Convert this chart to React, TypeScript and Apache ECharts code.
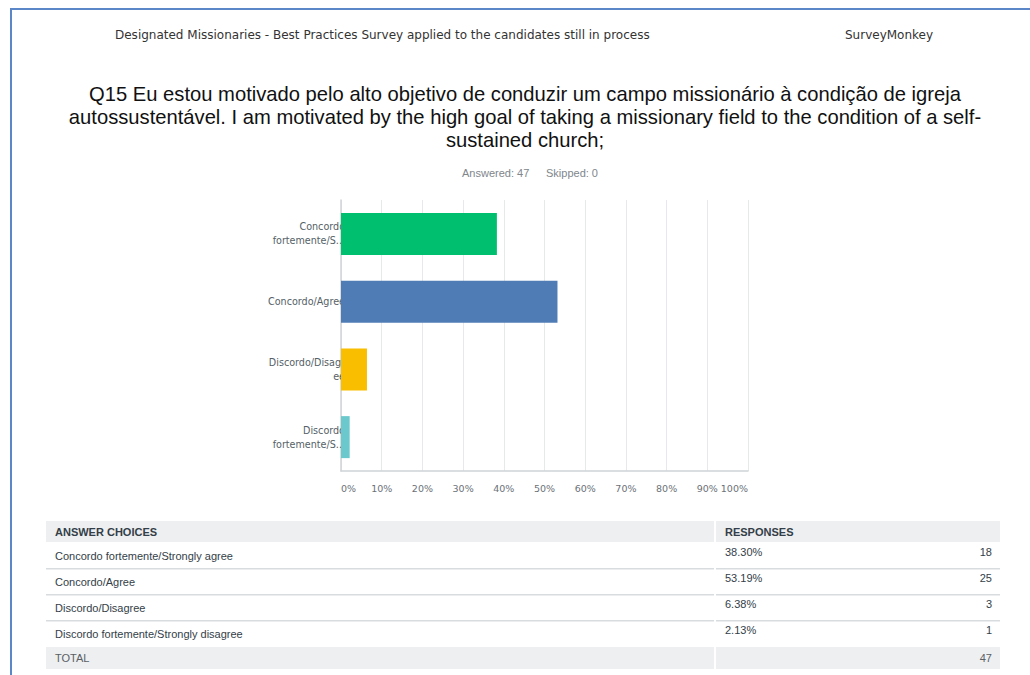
import React, { useEffect, useRef } from "react";
import * as echarts from "echarts";

// Survey answers for Q15
const categories = [
  "Concordo fortemente/Strongly agree",
  "Concordo/Agree",
  "Discordo/Disagree",
  "Discordo fortemente/Strongly disagree",
];
// Short axis labels as shown next to the bars
const axisLabels = [
  "Concordo\nfortemente/S...",
  "Concordo/Agree",
  "Discordo/Disagr\nee",
  "Discordo\nfortemente/S...",
];
const percents = [38.3, 53.19, 6.38, 2.13];
const counts = [18, 25, 3, 1];
const barColors = ["#00bf6f", "#507cb6", "#f9be00", "#6bc8cd"];
const xTicks = [0, 10, 20, 30, 40, 50, 60, 70, 80, 90, 100];
const answered = 47;
const skipped = 0;

const TITLE_LINES = [
  "Q15 Eu estou motivado pelo alto objetivo de conduzir um campo missionário à condição de igreja",
  "autossustentável. I am motivated by the high goal of taking a missionary field to the condition of a self-",
  "sustained church;",
];

export default function App() {
  const ref = useRef<HTMLDivElement>(null);

  useEffect(() => {
    document.body.style.margin = "0";
    const chart = echarts.init(ref.current!, undefined, { renderer: "svg" });

    const sans = "Liberation Sans, Arial, sans-serif";
    const ui = "DejaVu Sans, sans-serif";

    // Table layout
    const tLeft = 46;
    const tSplit = 715;
    const tRight = 1000;
    const headerTop = 521;
    const headerH = 21;
    const rowH = 26;
    const firstRowTop = 543;

    const graphics: any[] = [];

    // page frame
    graphics.push({
      type: "rect",
      shape: { x: 10, y: 8, width: 1030, height: 2 },
      style: { fill: "#5b86c8" },
      silent: true,
    });
    graphics.push({
      type: "rect",
      shape: { x: 10, y: 8, width: 2, height: 670 },
      style: { fill: "#5b86c8" },
      silent: true,
    });

    // page header
    graphics.push({
      type: "text",
      x: 115,
      y: 35,
      style: {
        text: "Designated Missionaries - Best Practices Survey applied to the candidates still in process",
        font: `12px ${ui}`,
        fill: "#333",
        verticalAlign: "middle",
      },
    });
    graphics.push({
      type: "text",
      x: 845,
      y: 35,
      style: { text: "SurveyMonkey", font: `12px ${ui}`, fill: "#333", verticalAlign: "middle" },
    });

    // question title
    TITLE_LINES.forEach((line, i) => {
      graphics.push({
        type: "text",
        x: 525,
        y: 94 + i * 23,
        style: {
          text: line,
          font: `20.2px ${sans}`,
          fill: "#111",
          align: "center",
          verticalAlign: "middle",
        },
      });
    });

    graphics.push({
      type: "text",
      x: 462,
      y: 173,
      style: { text: `Answered: ${answered}`, font: `11px ${sans}`, fill: "#80868c", verticalAlign: "middle" },
    });
    graphics.push({
      type: "text",
      x: 546,
      y: 173,
      style: { text: `Skipped: ${skipped}`, font: `11px ${sans}`, fill: "#80868c", verticalAlign: "middle" },
    });

    // table header
    graphics.push({
      type: "rect",
      shape: { x: tLeft, y: headerTop, width: tSplit - tLeft - 1, height: headerH },
      style: { fill: "#eeeff0" },
    });
    graphics.push({
      type: "rect",
      shape: { x: tSplit + 1, y: headerTop, width: tRight - tSplit - 1, height: headerH },
      style: { fill: "#eeeff0" },
    });
    graphics.push({
      type: "text",
      x: 55,
      y: headerTop + headerH / 2,
      style: { text: "ANSWER CHOICES", font: `bold 11px ${sans}`, fill: "#333e48", verticalAlign: "middle" },
    });
    graphics.push({
      type: "text",
      x: 725,
      y: headerTop + headerH / 2,
      style: { text: "RESPONSES", font: `bold 11px ${sans}`, fill: "#333e48", verticalAlign: "middle" },
    });

    // table rows
    categories.forEach((cat, i) => {
      const top = firstRowTop + i * rowH;
      graphics.push({
        type: "text",
        x: 55,
        y: top + 13,
        style: { text: cat, font: `11px ${sans}`, fill: "#333e48", verticalAlign: "middle" },
      });
      graphics.push({
        type: "text",
        x: 725,
        y: top + 9,
        style: { text: `${percents[i].toFixed(2)}%`, font: `11px ${sans}`, fill: "#333e48", verticalAlign: "middle" },
      });
      graphics.push({
        type: "text",
        x: 992,
        y: top + 9,
        style: { text: String(counts[i]), font: `11px ${sans}`, fill: "#333e48", align: "right", verticalAlign: "middle" },
      });
      if (i < categories.length - 1) {
        graphics.push({
          type: "rect",
          shape: { x: tLeft, y: top + rowH - 1, width: tSplit - tLeft - 1, height: 1.5 },
          style: { fill: "#d9dcde" },
        });
        graphics.push({
          type: "rect",
          shape: { x: tSplit + 1, y: top + rowH - 1, width: tRight - tSplit - 1, height: 1.5 },
          style: { fill: "#d9dcde" },
        });
      }
    });

    // total row
    const totalTop = firstRowTop + categories.length * rowH;
    const total = counts.reduce((a, b) => a + b, 0);
    graphics.push({
      type: "rect",
      shape: { x: tLeft, y: totalTop, width: tSplit - tLeft - 1, height: 22 },
      style: { fill: "#eeeff0" },
    });
    graphics.push({
      type: "rect",
      shape: { x: tSplit + 1, y: totalTop, width: tRight - tSplit - 1, height: 22 },
      style: { fill: "#eeeff0" },
    });
    graphics.push({
      type: "text",
      x: 55,
      y: totalTop + 11,
      style: { text: "TOTAL", font: `11px ${sans}`, fill: "#5a6066", verticalAlign: "middle" },
    });
    graphics.push({
      type: "text",
      x: 992,
      y: totalTop + 11,
      style: { text: String(total), font: `11px ${sans}`, fill: "#5a6066", align: "right", verticalAlign: "middle" },
    });

    chart.setOption({
      animation: false,
      backgroundColor: "#ffffff",
      grid: { left: 341, right: 282, top: 200, bottom: 204 },
      xAxis: {
        type: "value",
        min: 0,
        max: 100,
        interval: 10,
        axisLine: { show: true, lineStyle: { color: "#d0d3d6", width: 1.5 } },
        axisTick: { show: false },
        splitLine: { show: true, lineStyle: { color: "#e6e8ea", width: 1 } },
        axisLabel: {
          formatter: (v: number) => (xTicks.includes(v) ? `${v}%` : ""),
          color: "#6b7178",
          fontSize: 9.5,
          fontFamily: ui,
          margin: 12,
          alignMinLabel: "left",
          alignMaxLabel: "right",
        },
      },
      yAxis: {
        type: "category",
        inverse: true,
        data: axisLabels,
        axisLine: { show: true, lineStyle: { color: "#d0d3d6", width: 1.5 } },
        axisTick: { show: false },
        axisLabel: {
          color: "#555f68",
          fontSize: 9.6,
          fontFamily: ui,
          lineHeight: 14,
          align: "right",
          margin: -4,
        },
      },
      series: [
        {
          type: "bar",
          barWidth: 42,
          data: percents.map((v, i) => ({ value: v, itemStyle: { color: barColors[i] } })),
          z: 1,
        },
      ],
      graphic: graphics,
    });

    return () => chart.dispose();
  }, []);

  return <div ref={ref} style={{ width: 1030, height: 675 }} />;
}
